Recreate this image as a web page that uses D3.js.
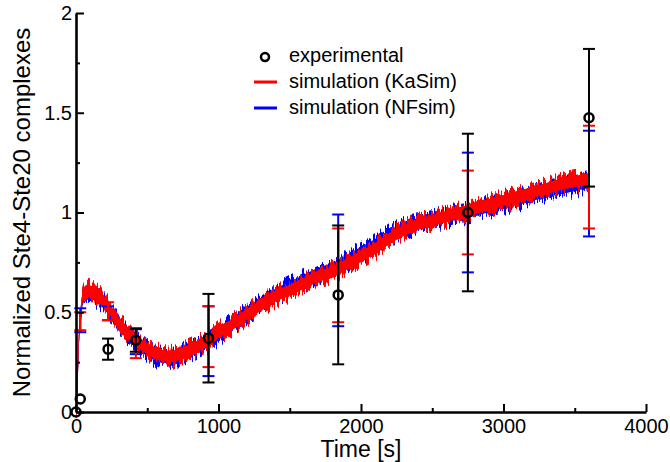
<!DOCTYPE html>
<meta charset="utf-8">
<html>
<head>
<script src="https://cdn.jsdelivr.net/npm/d3@7"></script>
<style>
	body { margin: 0; background: #fff; }
	svg text { font-family: "Liberation Sans", Arial, Helvetica, sans-serif; fill: #000; }
</style>
</head>
<body>
<svg id="chart" width="670" height="462"></svg>
<script>
	// experimental points: time, mean, error half-width
	var expTime = [0, 30, 225, 420, 930, 1840, 2750, 3600];
	var expValue = [0, 0.065, 0.315, 0.36, 0.37, 0.587, 1.0, 1.475];
	var expErr = [0, 0, 0.053, 0.058, 0.222, 0.348, 0.395, 0.345];

	// simulation error bars at the experimental times
	var simTime = [30, 225, 420, 930, 1840, 2750, 3600];
	var kaLow = [0.41, 0.46, 0.27, 0.225, 0.45, 0.79, 0.92];
	var kaHigh = [0.50, 0.55, 0.42, 0.53, 0.92, 1.21, 1.435];
	var nfLow = [0.40, 0.46, 0.29, 0.18, 0.43, 0.70, 0.88];
	var nfHigh = [0.52, 0.53, 0.415, 0.53, 0.99, 1.30, 1.41];

	// simulation traces
	var traceTime = [0, 10, 20, 35, 50, 80, 120, 190, 300, 420, 520, 600, 680, 760, 850, 930, 1000,
		1100, 1200, 1300, 1400, 1500, 1600, 1700, 1800, 1900, 2000, 2100, 2200, 2300, 2400, 2500,
		2600, 2700, 2800, 2900, 3000, 3100, 3200, 3300, 3400, 3500, 3600];
	var kasimTrace = [0, 0.15, 0.35, 0.5, 0.58, 0.61, 0.6, 0.56, 0.45, 0.36, 0.31, 0.285, 0.28, 0.30, 0.33, 0.36, 0.40,
		0.44, 0.49, 0.535, 0.58, 0.61, 0.645, 0.68, 0.70, 0.74, 0.78, 0.82, 0.87, 0.91, 0.94, 0.96,
		0.98, 1.0, 1.02, 1.04, 1.06, 1.08, 1.10, 1.12, 1.14, 1.155, 1.17];
	var nfsimTrace = [0, 0.15, 0.35, 0.5, 0.57, 0.595, 0.59, 0.55, 0.44, 0.35, 0.30, 0.275, 0.275, 0.295, 0.325, 0.355, 0.39,
		0.445, 0.50, 0.545, 0.59, 0.625, 0.66, 0.695, 0.72, 0.76, 0.80, 0.84, 0.885, 0.92, 0.945, 0.96,
		0.98, 0.995, 1.01, 1.03, 1.05, 1.065, 1.085, 1.105, 1.12, 1.135, 1.15];

	var xTicks = [0, 1000, 2000, 3000, 4000],
		xMinor = [500, 1500, 2500, 3500],
		yTicks = [0, 0.5, 1, 1.5, 2],
		yMinor = [0.25, 0.75, 1.25, 1.75];

	var svg = d3.select("#chart");
	var x = d3.scaleLinear().domain([0, 4000]).range([76, 646]),
		y = d3.scaleLinear().domain([0, 2]).range([412, 13]);

	// noise filters for the stochastic traces
	var defs = svg.append("defs");
	function noiseFilter(id, seed) {
		var f = defs.append("filter")
			.attr("id", id)
			.attr("filterUnits", "userSpaceOnUse")
			.attr("x", 60).attr("y", 0).attr("width", 610).attr("height", 440);
		f.append("feTurbulence")
			.attr("type", "fractalNoise")
			.attr("baseFrequency", "0.45 0.02")
			.attr("numOctaves", 2)
			.attr("seed", seed)
			.attr("result", "n");
		f.append("feColorMatrix")
			.attr("in", "n")
			.attr("type", "matrix")
			.attr("values", "0 0 0 0 0.5  0 2.5 0 0 -0.75  0 0 0 0 0  0 0 0 0 1")
			.attr("result", "m");
		f.append("feDisplacementMap")
			.attr("in", "SourceGraphic")
			.attr("in2", "m")
			.attr("scale", 11)
			.attr("xChannelSelector", "R")
			.attr("yChannelSelector", "G");
	}
	noiseFilter("noiseNF", 7);
	noiseFilter("noiseKa", 2);

	function band(values, half) {
		return d3.area()
			.x(function (d, i) { return x(traceTime[i]); })
			.y0(function (d) { return y(d) + half; })
			.y1(function (d) { return y(d) - half; })
			.curve(d3.curveMonotoneX)(values);
	}

	var traces = svg.append("g");
	[[nfsimTrace, "#0000ff", "noiseNF"], [kasimTrace, "#ff0000", "noiseKa"]].forEach(function (s) {
		traces.append("path")
			.attr("d", band(s[0], 7.5))
			.attr("fill", s[1])
			.attr("filter", "url(#" + s[2] + ")");
		traces.append("path")
			.attr("d", band(s[0], 5.5))
			.attr("fill", s[1]);
	});

	// error bars
	function errorBar(g, t, lo, hi, color, w) {
		g.append("line")
			.attr("x1", x(t)).attr("x2", x(t))
			.attr("y1", y(lo)).attr("y2", y(hi))
			.attr("stroke", color).attr("stroke-width", w);
		[lo, hi].forEach(function (v) {
			g.append("line")
				.attr("x1", x(t) - 6).attr("x2", x(t) + 6)
				.attr("y1", y(v)).attr("y2", y(v))
				.attr("stroke", color).attr("stroke-width", 2);
		});
	}

	var bars = svg.append("g");
	simTime.forEach(function (t, i) {
		errorBar(bars, t, nfLow[i], nfHigh[i], "#0000ff", 2);
		errorBar(bars, t, kaLow[i], kaHigh[i], "#ff0000", 2);
	});
	expTime.forEach(function (t, i) {
		if (expErr[i] > 0)
			errorBar(bars, t, expValue[i] - expErr[i], expValue[i] + expErr[i], "#000", 2);
	});

	svg.append("g")
		.selectAll("circle")
		.data(expValue)
		.enter()
		.append("circle")
		.attr("cx", function (d, i) { return x(expTime[i]); })
		.attr("cy", function (d) { return y(d); })
		.attr("r", 4.5)
		.attr("fill", "none")
		.attr("stroke", "#000")
		.attr("stroke-width", 2.5);

	// axes, ticks pointing inwards
	svg.append("g")
		.attr("transform", "translate(0," + y(0) + ")")
		.call(d3.axisBottom(x).tickValues(xTicks).tickSize(-8).tickSizeOuter(0).tickPadding(7)
			.tickFormat(d3.format("d")));
	svg.append("g")
		.attr("transform", "translate(0," + y(0) + ")")
		.call(d3.axisBottom(x).tickValues(xMinor).tickSize(-4).tickFormat(""))
		.select(".domain").remove();

	svg.append("g")
		.attr("transform", "translate(" + x(0) + ",0)")
		.call(d3.axisLeft(y).tickValues(yTicks).tickSize(-8).tickSizeOuter(0).tickPadding(4)
			.tickFormat(function (d) { return d; }));
	svg.append("g")
		.attr("transform", "translate(" + x(0) + ",0)")
		.call(d3.axisLeft(y).tickValues(yMinor).tickSize(-4).tickFormat(""))
		.select(".domain").remove();

	svg.selectAll(".domain").attr("stroke", "#000").attr("stroke-width", 2.6);
	svg.selectAll(".tick line").attr("stroke", "#000").attr("stroke-width", 2);
	svg.selectAll(".tick text")
		.attr("font-size", "20px")
		.attr("font-family", "'Liberation Sans', Arial, sans-serif")
		.attr("fill", "#000");

	svg.append("text")
		.attr("x", 361)
		.attr("y", 457)
		.attr("text-anchor", "middle")
		.attr("font-size", "23px")
		.text("Time [s]");

	svg.append("text")
		.attr("transform", "translate(30," + ((y(0) + y(2)) / 2) + ") rotate(-90)")
		.attr("text-anchor", "middle")
		.attr("font-size", "24px")
		.text("Normalized Ste4-Ste20 complexes");

	// legend
	var legend = svg.append("g");
	legend.append("circle")
		.attr("cx", 265).attr("cy", 57).attr("r", 4)
		.attr("fill", "none").attr("stroke", "#000").attr("stroke-width", 2.5);
	[["#ff0000", 82], ["#0000ff", 108]].forEach(function (l) {
		legend.append("line")
			.attr("x1", 254).attr("x2", 277)
			.attr("y1", l[1]).attr("y2", l[1])
			.attr("stroke", l[0]).attr("stroke-width", 3);
	});
	legend.selectAll("text")
		.data(["experimental", "simulation (KaSim)", "simulation (NFsim)"])
		.enter()
		.append("text")
		.attr("x", 289)
		.attr("y", function (d, i) { return 62 + i * 26; })
		.attr("font-size", "20px")
		.text(function (d) { return d; });
</script>
</body>
</html>
